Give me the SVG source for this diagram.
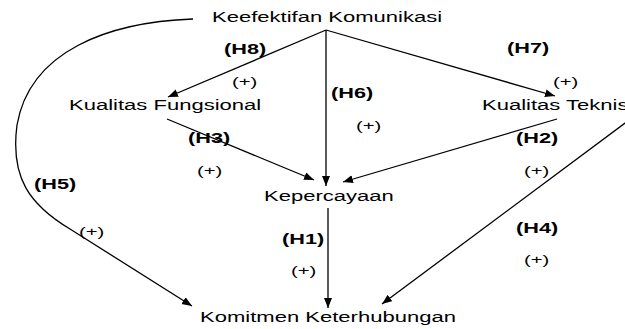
<svg xmlns="http://www.w3.org/2000/svg" width="625" height="329" viewBox="0 0 625 329">
  <defs>
    <marker id="arrow" markerUnits="userSpaceOnUse" markerWidth="11" markerHeight="9" refX="10" refY="4" orient="auto">
      <path d="M0,0 L10,4 L0,8 z" fill="#000"/>
    </marker>
    <style>
      text { font-family: "Liberation Sans", Arial, sans-serif; fill: #000; }
      .node { font-size: 14.5px; }
      .hyp { font-size: 14px; font-weight: bold; }
      .sign { font-size: 13.5px; }
      .edge { fill: none; stroke: #000; stroke-width: 1.3; marker-end: url(#arrow); }
    </style>
  </defs>
  <rect width="625" height="329" fill="#fff"/>

  <!-- connectors -->
  <g id="connectors">
    <path class="edge" d="M326,30 L168,97"/>
    <path class="edge" d="M326,30 L555,96"/>
    <path class="edge" d="M326,30 L326,186"/>
    <path class="edge" d="M167,119 L314,180"/>
    <path class="edge" d="M557,119 L343,182"/>
    <path class="edge" d="M328,208 L328,308"/>
    <path class="edge" d="M640,112 L382,304"/>
    <path class="edge" d="M193,19 C110,22 30,50 17,125 C10,178 30,205 70,229 L192,306"/>
  </g>

  <!-- hypothesis labels (text is drawn horizontally stretched) -->
  <g id="labels">
    <text class="hyp" transform="translate(224,53.5) scale(1.55,1)">(H8)</text>
    <text class="sign" transform="translate(232,85.5) scale(1.5,1)">(+)</text>
    <text class="hyp" transform="translate(507,52.5) scale(1.55,1)">(H7)</text>
    <text class="sign" transform="translate(553,85.5) scale(1.5,1)">(+)</text>
    <text class="hyp" transform="translate(331,97.5) scale(1.55,1)">(H6)</text>
    <text class="sign" transform="translate(356,129.5) scale(1.5,1)">(+)</text>
    <text class="hyp" transform="translate(188,142.5) scale(1.55,1)">(H3)</text>
    <text class="sign" transform="translate(197,174.5) scale(1.5,1)">(+)</text>
    <text class="hyp" transform="translate(516,142.5) scale(1.55,1)">(H2)</text>
    <text class="sign" transform="translate(524,174.5) scale(1.5,1)">(+)</text>
    <text class="hyp" transform="translate(34,188.5) scale(1.55,1)">(H5)</text>
    <text class="sign" transform="translate(79,235.5) scale(1.5,1)">(+)</text>
    <text class="hyp" transform="translate(282,243.5) scale(1.55,1)">(H1)</text>
    <text class="sign" transform="translate(291,274.5) scale(1.5,1)">(+)</text>
    <text class="hyp" transform="translate(516,232.5) scale(1.55,1)">(H4)</text>
    <text class="sign" transform="translate(524,263.5) scale(1.5,1)">(+)</text>
  </g>

  <!-- nodes -->
  <g id="keefektifan-komunikasi">
    <text class="node" transform="translate(212,22) scale(1.52,1)">Keefektifan Komunikasi</text>
  </g>
  <g id="kualitas-fungsional">
    <text class="node" transform="translate(69,110) scale(1.52,1)">Kualitas Fungsional</text>
  </g>
  <g id="kualitas-teknis">
    <text class="node" transform="translate(482,110) scale(1.52,1)">Kualitas Teknis</text>
  </g>
  <g id="kepercayaan">
    <text class="node" transform="translate(264,201) scale(1.52,1)">Kepercayaan</text>
  </g>
  <g id="komitmen-keterhubungan">
    <text class="node" transform="translate(200,322) scale(1.52,1)">Komitmen Keterhubungan</text>
  </g>
</svg>
